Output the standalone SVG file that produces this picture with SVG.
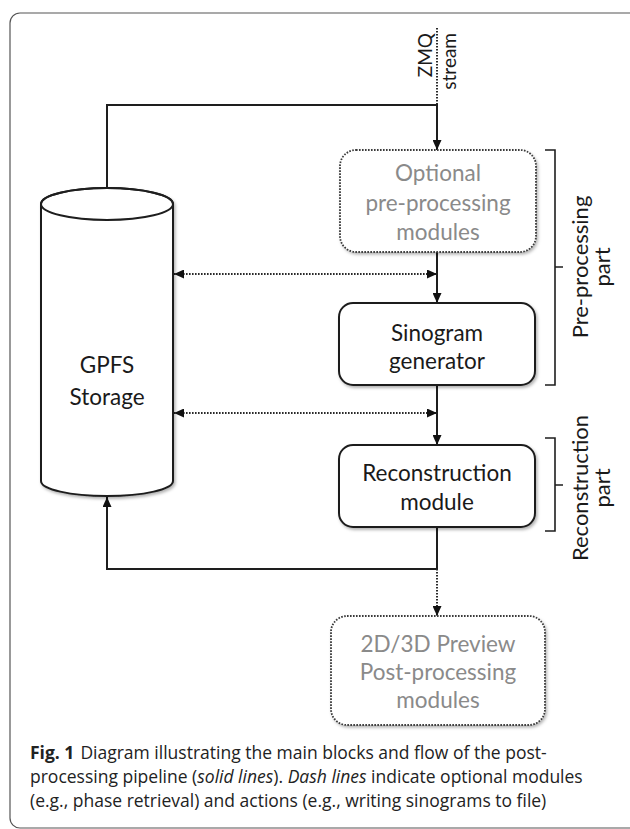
<svg xmlns="http://www.w3.org/2000/svg" width="630" height="829" viewBox="0 0 630 829">
<style>
.frame{fill:none;stroke:#555;stroke-width:1.2}
.solid{fill:#fff;stroke:#1e1e1e;stroke-width:2}
.opt{fill:#fff;stroke:#3a3a3a;stroke-width:1.8;stroke-dasharray:1.6 1.4}
.line{fill:none;stroke:#1e1e1e;stroke-width:2}
.dot{fill:none;stroke:#2a2a2a;stroke-width:2;stroke-dasharray:1.6 1.4}
.brk{fill:none;stroke:#1e1e1e;stroke-width:1.6}
.t{font-family:Lato,"Liberation Sans",sans-serif;font-size:22.5px;text-anchor:middle}
.dark{fill:#1a1a1a}
.grey{fill:#8a8a8a}
.side{font-family:Lato,"Liberation Sans",sans-serif;font-size:22px;text-anchor:middle;fill:#1a1a1a}
.zmq{font-family:Lato,"Liberation Sans",sans-serif;font-size:19px;text-anchor:end;fill:#1a1a1a}
.cap{font-family:"Open Sans","Noto Sans",sans-serif;font-size:17.5px;fill:#222}
</style>
<defs>
<filter id="sh" x="-10%" y="-10%" width="130%" height="130%">
<feDropShadow dx="1.5" dy="2" stdDeviation="1.5" flood-color="#000" flood-opacity="0.3"/>
</filter>
<marker id="ah" markerUnits="userSpaceOnUse" markerWidth="10" markerHeight="9" refX="10" refY="4.5" orient="auto-start-reverse">
<path d="M0,0 L10,4.5 L0,9 z" fill="#111"/>
</marker>
</defs>

<rect class="frame" x="10" y="13" width="660" height="815" rx="10"/>

<g id="connectors">
<line class="dot" x1="437" y1="28" x2="437" y2="105"/>
<path class="line" d="M107,188 V105 H437 V150" marker-end="url(#ah)"/>
<path class="line" d="M437,252 V303" marker-end="url(#ah)"/>
<path class="line" d="M437,385 V445" marker-end="url(#ah)"/>
<path class="line" d="M437,527 V569 H107 V497" marker-end="url(#ah)"/>
<path class="dot" d="M437,569 V616" marker-end="url(#ah)"/>
<path class="dot" d="M174,274 H437" marker-start="url(#ah)" marker-end="url(#ah)"/>
<path class="dot" d="M174,413 H437" marker-start="url(#ah)" marker-end="url(#ah)"/>
</g>

<g id="zmq-label">
<text class="zmq" transform="translate(432,33) rotate(-90)">ZMQ</text>
<text class="zmq" transform="translate(456,33) rotate(-90)">stream</text>
</g>

<g id="storage">
<path class="solid" filter="url(#sh)" d="M41,204 V481 A66,15 0 0 0 173,481 V204 A66,16 0 0 0 41,204 Z"/>
<ellipse cx="107" cy="204" rx="66" ry="16" fill="none" stroke="#1e1e1e" stroke-width="2"/>
<text class="t dark" x="107" y="373">GPFS</text>
<text class="t dark" x="107" y="405">Storage</text>
</g>

<g id="optional-pre">
<rect class="opt" filter="url(#sh)" x="340" y="150" width="196" height="102" rx="16"/>
<text class="t grey" x="438" y="181">Optional</text>
<text class="t grey" x="438" y="211">pre-processing</text>
<text class="t grey" x="438" y="240">modules</text>
</g>

<g id="sinogram">
<rect class="solid" filter="url(#sh)" x="339" y="303" width="196" height="82" rx="14"/>
<text class="t dark" x="437" y="341">Sinogram</text>
<text class="t dark" x="437" y="369">generator</text>
</g>

<g id="reconstruction">
<rect class="solid" filter="url(#sh)" x="339" y="445" width="196" height="82" rx="14"/>
<text class="t dark" x="437" y="481">Reconstruction</text>
<text class="t dark" x="437" y="510">module</text>
</g>

<g id="post">
<rect class="opt" filter="url(#sh)" x="331" y="616" width="214" height="109" rx="16"/>
<text class="t grey" x="438" y="652">2D/3D Preview</text>
<text class="t grey" x="438" y="680">Post-processing</text>
<text class="t grey" x="438" y="708">modules</text>
</g>

<g id="pre-bracket">
<path class="brk" d="M545,150 H555 V385 H545 M555,267 H563"/>
<text class="side" transform="translate(588,267) rotate(-90)">Pre-processing</text>
<text class="side" transform="translate(610,267) rotate(-90)">part</text>
</g>

<g id="recon-bracket">
<path class="brk" d="M545,438 H555 V531 H545 M555,485 H563"/>
<text class="side" transform="translate(588,488) rotate(-90)">Reconstruction</text>
<text class="side" transform="translate(610,488) rotate(-90)">part</text>
</g>

<g id="caption">
<text class="cap" x="30" y="759"><tspan font-weight="bold">Fig. 1</tspan><tspan dx="6">Diagram illustrating the main blocks and flow of the post-</tspan></text>
<text class="cap" x="30" y="783">processing pipeline (<tspan font-style="italic">solid lines</tspan>). <tspan font-style="italic">Dash lines</tspan> indicate optional modules</text>
<text class="cap" x="30" y="807">(e.g., phase retrieval) and actions (e.g., writing sinograms to file)</text>
</g>
</svg>
